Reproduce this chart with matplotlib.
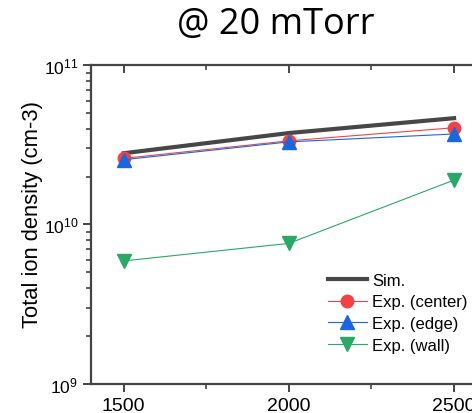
import matplotlib
matplotlib.use("Agg")
import matplotlib.pyplot as plt
from matplotlib.ticker import LogLocator, FixedLocator, NullFormatter

plt.rcParams["font.family"] = ["Liberation Sans", "DejaVu Sans"]
plt.rcParams["mathtext.default"] = "regular"

# RF power (W) and total ion density (cm-3)
power = [1500, 2000, 2500]
sim = [2.8e10, 3.75e10, 4.65e10]
exp_center = [2.6e10, 3.35e10, 4.05e10]
exp_edge = [2.55e10, 3.3e10, 3.7e10]
exp_wall = [5.9e9, 7.6e9, 1.9e10]

SPINE = "#444444"

fig = plt.figure(figsize=(4.72, 4.14), dpi=100)
ax = fig.add_axes([0.192, 0.071, 0.84, 0.769])

ax.plot(power, sim, color="#474747", lw=3.0, label="Sim.", zorder=3)
ax.plot(power, exp_center, color="#F04343", lw=0.8, marker="o", ms=9,
        label="Exp. (center)", zorder=4)
ax.plot(power, exp_edge, color="#1A66DD", lw=0.8, marker="^", ms=10,
        label="Exp. (edge)", zorder=5)
ax.plot(power, exp_wall, color="#2BA866", lw=0.8, marker="v", ms=10,
        label="Exp. (wall)", zorder=4)

ax.set_yscale("log")
ax.set_ylim(1e9, 1e11)
ax.set_xlim(1400, 2600)
ax.set_xticks([1500, 2000, 2500])
ax.xaxis.set_minor_locator(FixedLocator([1750, 2250]))
ax.yaxis.set_major_locator(LogLocator(base=10))
ax.yaxis.set_minor_locator(LogLocator(base=10, subs=range(2, 10)))
ax.yaxis.set_minor_formatter(NullFormatter())

for side in ["left", "bottom", "top", "right"]:
    ax.spines[side].set_color(SPINE)
    ax.spines[side].set_linewidth(1.6)

ax.tick_params(axis="both", which="major", color=SPINE, width=1.4,
               length=6, direction="out")
ax.tick_params(axis="both", which="minor", color=SPINE, width=1.2,
               length=3.5, direction="out")
ax.tick_params(axis="x", which="major", labelsize=14, pad=4)
ax.tick_params(axis="x", which="both", top=True)
ax.tick_params(axis="y", which="major", labelsize=12.5, pad=3)

ax.set_ylabel("Total ion density (cm-3)", fontsize=15.8)
ax.yaxis.set_label_coords(-0.12, 0.533)

# top ticks point inward
for t in ax.xaxis.get_major_ticks() + ax.xaxis.get_minor_ticks():
    t.tick2line.set_marker(3)

ax.legend(loc="upper left", bbox_to_anchor=(321 / 472, 1 - 267 / 414),
          bbox_transform=fig.transFigure, frameon=False, fontsize=12,
          handlelength=2.35, handletextpad=0.3, labelspacing=0.4,
          borderaxespad=0)

fig.text(0.585, 0.94, "@ 20 mTorr", fontsize=26, family="Open Sans",
         ha="center", va="center")

fig.savefig("out.png", dpi=100)
